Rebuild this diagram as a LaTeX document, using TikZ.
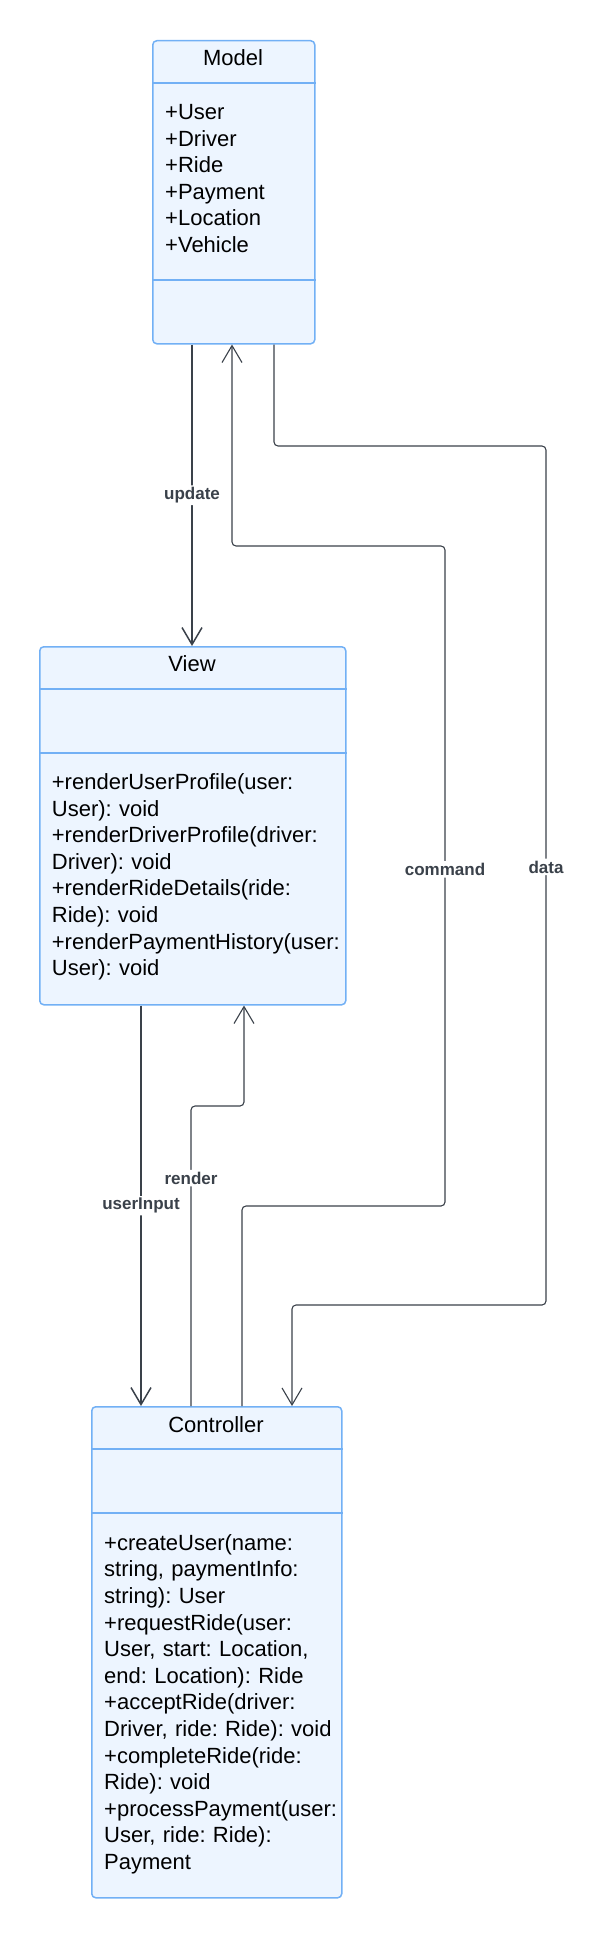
\documentclass[tikz,border=0pt]{standalone}
\usepackage{fontspec}
\setmainfont{Liberation Sans}
\usepackage{tikz}
\usetikzlibrary{calc,positioning,arrows.meta}
\frenchspacing
\definecolor{umlblue}{HTML}{72B0F5}
\definecolor{umlfill}{HTML}{EDF5FF}
\definecolor{linkgray}{HTML}{3A414A}
\tikzstyle{umlbox}  = [rectangle, draw=umlblue, fill=umlfill, line width=1.5pt, rounded corners=4pt, inner sep=0pt]
\tikzstyle{divider} = [draw=umlblue, line width=1.5pt]
\tikzstyle{title}   = [font=\fontsize{22}{26.6}\selectfont, inner sep=0pt]
\tikzstyle{members} = [font=\fontsize{22}{26.6}\selectfont, text width=300pt, align=left, inner sep=0pt]
\tikzstyle{link}    = [draw=linkgray, line width=1.1pt, rounded corners=4pt]
\tikzstyle{arrow}   = [link, -{Straight Barb[length=17pt,width=20pt]}]
\tikzstyle{tag}     = [font=\bfseries\fontsize{17}{20}\selectfont, text=linkgray, fill=white, inner sep=2pt]
\begin{document}
\begin{tikzpicture}[x=1pt,y=-1pt]
    \useasboundingbox (0,0) rectangle (605,1937);

    \node[umlbox, anchor=north west, minimum width=162, minimum height=303] (model) at (152,40) {};
    \draw[divider] (model.west |- 0,83) -- (model.east |- 0,83);
    \draw[divider] (model.west |- 0,280) -- (model.east |- 0,280);
    \node[title, anchor=base] (modelname) at (233,66) {Model};
    \node[members, anchor=north west] (modelattrs) at (165,100.7)
        {\strut+User\\+Driver\\+Ride\\+Payment\\+Location\\+Vehicle};

    \node[umlbox, anchor=north west, minimum width=306, minimum height=358] (view) at (39,646) {};
    \draw[divider] (view.west |- 0,689) -- (view.east |- 0,689);
    \draw[divider] (view.west |- 0,753) -- (view.east |- 0,753);
    \node[title, anchor=base] (viewname) at (192,671.7) {View};
    \node[members, anchor=north west] (viewops) at (51.7,770.7)
        {\strut+renderUserProfile(user:\\User): void\\+renderDriverProfile(driver:\\Driver): void\\
         +renderRideDetails(ride:\\Ride): void\\+renderPaymentHistory(user:\\User): void};

    \node[umlbox, anchor=north west, minimum width=250, minimum height=491] (controller) at (91,1406) {};
    \draw[divider] (controller.west |- 0,1449) -- (controller.east |- 0,1449);
    \draw[divider] (controller.west |- 0,1513) -- (controller.east |- 0,1513);
    \node[title, anchor=base] (controllername) at (216,1432) {Controller};
    \node[members, anchor=north west] (controllerops) at (104,1531.4)
        {\strut+createUser(name:\\string, paymentInfo:\\string): User\\+requestRide(user:\\
         User, start: Location,\\end: Location): Ride\\+acceptRide(driver:\\Driver, ride: Ride): void\\
         +completeRide(ride:\\Ride): void\\+processPayment(user:\\User, ride: Ride):\\Payment};

    \draw[arrow, line width=1.5pt] (model.south -| 192,0) -- node[tag]{update} (view.north -| 192,0);
    \draw[arrow] (controller.north -| 242,0) -- (242,1206) -- (445,1206)
        -- node[tag,pos=.51]{command} (445,546) -- (232,546) -- (model.south -| 232,0);
    \draw[arrow] (model.south -| 274,0) -- (274,446) -- (546,446)
        -- node[tag,pos=.49]{data} (546,1305) -- (292,1305) -- (controller.north -| 292,0);
    \draw[arrow, line width=1.5pt] (view.south -| 141,0) -- node[tag]{userInput} (controller.north -| 141,0);
    \draw[arrow] (controller.north -| 191,0) -- node[tag,pos=.76]{render} (191,1106)
        -- (244,1106) -- (view.south -| 244,0);
\end{tikzpicture}
\end{document}
